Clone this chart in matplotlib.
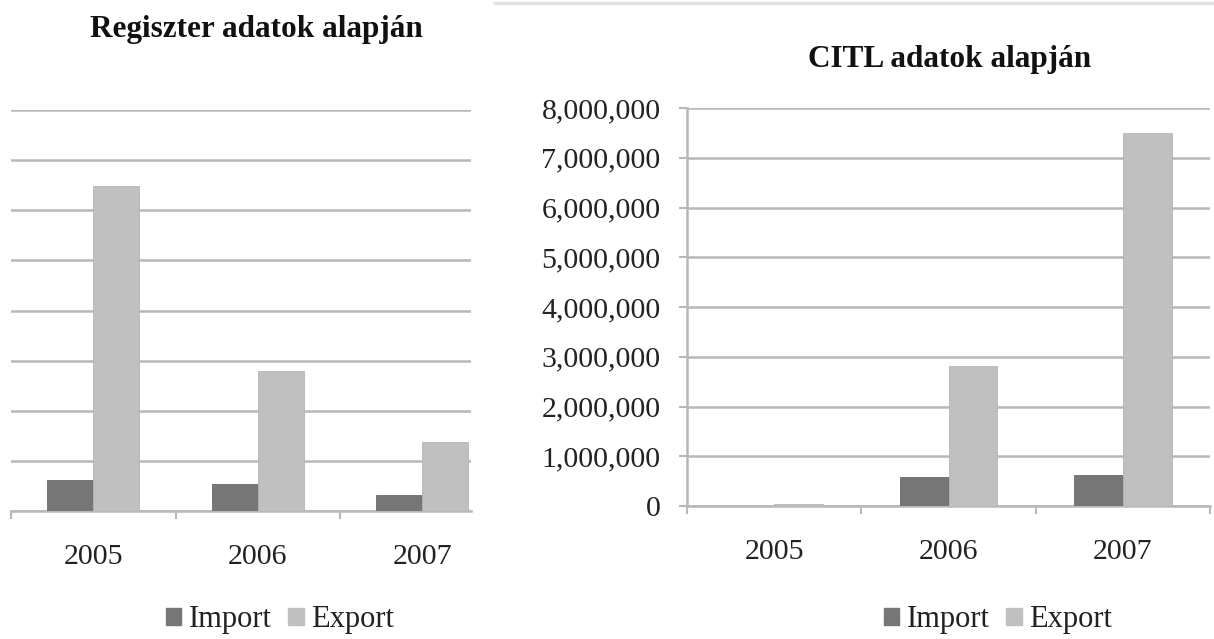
import matplotlib
matplotlib.use('Agg')
import matplotlib.pyplot as plt
from matplotlib.patches import Patch
from matplotlib.ticker import FuncFormatter

plt.rcParams['font.family'] = ['Liberation Serif', 'DejaVu Serif']

years = ['2005', '2006', '2007']

# Regiszter adatok (no axis labels visible in the picture)
reg_import = [620000, 540000, 320000]
reg_export = [6480000, 2800000, 1370000]

# CITL adatok
citl_import = [0, 577000, 624000]
citl_export = [50000, 2820000, 7500000]

c_imp = '#767676'
c_exp = '#c0c0c0'
c_grid = '#b8b8b8'
txt = '#222222'

W, H = 1214, 639
fig = plt.figure(figsize=(W / 100, H / 100), dpi=100)


def px_axes(x0, x1, y_top, y_base):
    return fig.add_axes([x0 / W, (H - y_base) / H, (x1 - x0) / W, (y_base - y_top) / H])


def style(ax, imp, exp, xr, show_y):
    x = range(len(years))
    bw = 0.28
    ax.bar([i - bw / 2 for i in x], imp, bw, color=c_imp, edgecolor='#6a6a6a', linewidth=0.6, zorder=3)
    ax.bar([i + bw / 2 for i in x], exp, bw, color=c_exp, edgecolor='#b4b4b4', linewidth=0.6, zorder=3)
    ax.set_yticks(range(0, 8000001, 1000000))
    ax.yaxis.grid(True, color=c_grid, linewidth=1.8, zorder=0)
    ax.set_axisbelow(True)
    for s in ['top', 'right']:
        ax.spines[s].set_visible(False)
    ax.spines['bottom'].set_color(c_grid)
    ax.spines['bottom'].set_linewidth(1.8)
    ax.set_xticks(list(x))
    ax.set_xticklabels(years)
    ax.set_xticks([-0.5, 0.5, 1.5, 2.5], minor=True)
    ax.set_xlim(-0.5, xr)
    ax.set_ylim(0, 8000000)
    ax.tick_params(axis='x', which='major', length=0, pad=24, labelsize=21.5, labelcolor=txt)
    ax.tick_params(axis='x', which='minor', length=6, width=1.5, color=c_grid, direction='out')
    if show_y:
        ax.spines['left'].set_color(c_grid)
        ax.spines['left'].set_linewidth(1.8)
        ax.tick_params(axis='y', length=6, width=1.5, color=c_grid, pad=13,
                       labelsize=21.5, labelcolor=txt)
        ax.yaxis.set_major_formatter(FuncFormatter(lambda v, p: f'{int(v):,}'))
    else:
        ax.spines['left'].set_visible(False)
        ax.tick_params(axis='y', length=0, labelleft=False)


ax1 = px_axes(11, 471, 110, 511)
style(ax1, reg_import, reg_export, 2.296, False)

ax2 = px_axes(687, 1210, 108, 506)
style(ax2, citl_import, citl_export, 2.5, True)

fig.text(256 / W, 1 - 30 / H, 'Regiszter adatok alapján', ha='center', va='center',
         fontsize=22.5, fontweight='bold', color='#111111')
fig.text(950 / W, 1 - 60 / H, 'CITL adatok alapján', ha='center', va='center',
         fontsize=22.5, fontweight='bold', color='#111111')

# thin frame line on top of the right chart
fig.add_artist(plt.Line2D([495 / W, 1], [1 - 2.5 / H, 1 - 2.5 / H], color='#e2e2e2', linewidth=2.5))

handles = [Patch(facecolor=c_imp, edgecolor=c_imp), Patch(facecolor=c_exp, edgecolor=c_exp)]
for cx in (280, 998):
    fig.legend(handles, ['Import', 'Export'], loc='center', bbox_to_anchor=(cx / W, 1 - 620 / H),
               ncol=2, frameon=False, fontsize=22, handlelength=0.5, handleheight=0.5,
               handletextpad=0.25, columnspacing=0.55, labelcolor=txt)

fig.savefig('out.png', dpi=100)
